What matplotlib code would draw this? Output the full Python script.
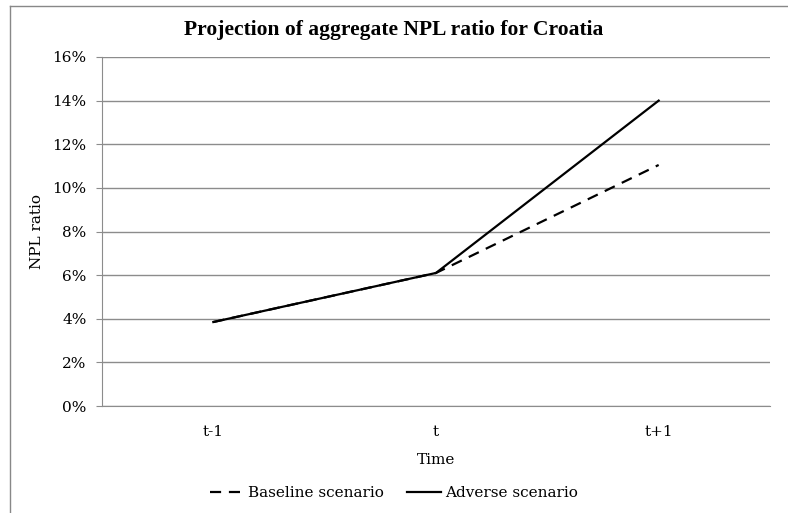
import matplotlib
matplotlib.use("Agg")
import matplotlib.pyplot as plt
from matplotlib.lines import Line2D

# data
periods = ["t-1", "t", "t+1"]
baseline = [3.85, 6.1, 11.05]
adverse = [3.85, 6.1, 14.0]
yticks = [0, 2, 4, 6, 8, 10, 12, 14, 16]

plt.rcParams['font.family'] = ['DejaVu Serif']

fig = plt.figure(figsize=(7.88, 5.13), dpi=100)
# outer chart frame (only left and top edges show in the crop)
fig.add_artist(Line2D([10/788, 10/788], [0, 1 - 6/513], transform=fig.transFigure,
                      color='#888888', linewidth=1.0))
fig.add_artist(Line2D([10/788, 1], [1 - 6/513, 1 - 6/513], transform=fig.transFigure,
                      color='#888888', linewidth=1.0))

ax = fig.add_axes([102/788, 1 - 406/513, 668/788, 349/513])
x = range(len(periods))
ax.plot(x, baseline, color='black', linewidth=1.6, linestyle=(0, (5, 3.5)), label='Baseline scenario')
ax.plot(x, adverse, color='black', linewidth=1.6, label='Adverse scenario')

ax.set_xlim(-0.5, 2.5)
ax.set_ylim(0, 16)
ax.set_yticks(yticks)
ax.set_yticklabels([f"{v}%" for v in yticks], fontsize=11)
ax.set_xticks(list(x))
ax.set_xticklabels(periods, fontsize=11)
ax.tick_params(axis='x', length=0, pad=14)
ax.tick_params(axis='y', length=4, color='#8c8c8c', pad=7)
ax.grid(axis='y', color='#8c8c8c', linewidth=1.0)
ax.set_axisbelow(True)
for s in ['top', 'right']:
    ax.spines[s].set_visible(False)
for s in ['left', 'bottom']:
    ax.spines[s].set_color('#8c8c8c')

ax.set_ylabel("NPL ratio", fontsize=11, labelpad=6)
ax.set_xlabel("Time", fontsize=11, labelpad=10)
fig.text(0.5, 1 - 30/513, "Projection of aggregate NPL ratio for Croatia",
         ha='center', va='center', fontsize=15.5, fontweight='bold',
         family=['Liberation Serif', 'DejaVu Serif'])

fig.legend(loc='center', bbox_to_anchor=(0.5, 1 - 493/513), ncol=2, frameon=False,
           fontsize=11, handlelength=2.2, columnspacing=1.5, handletextpad=0.3)

fig.savefig("out.png", dpi=100)
